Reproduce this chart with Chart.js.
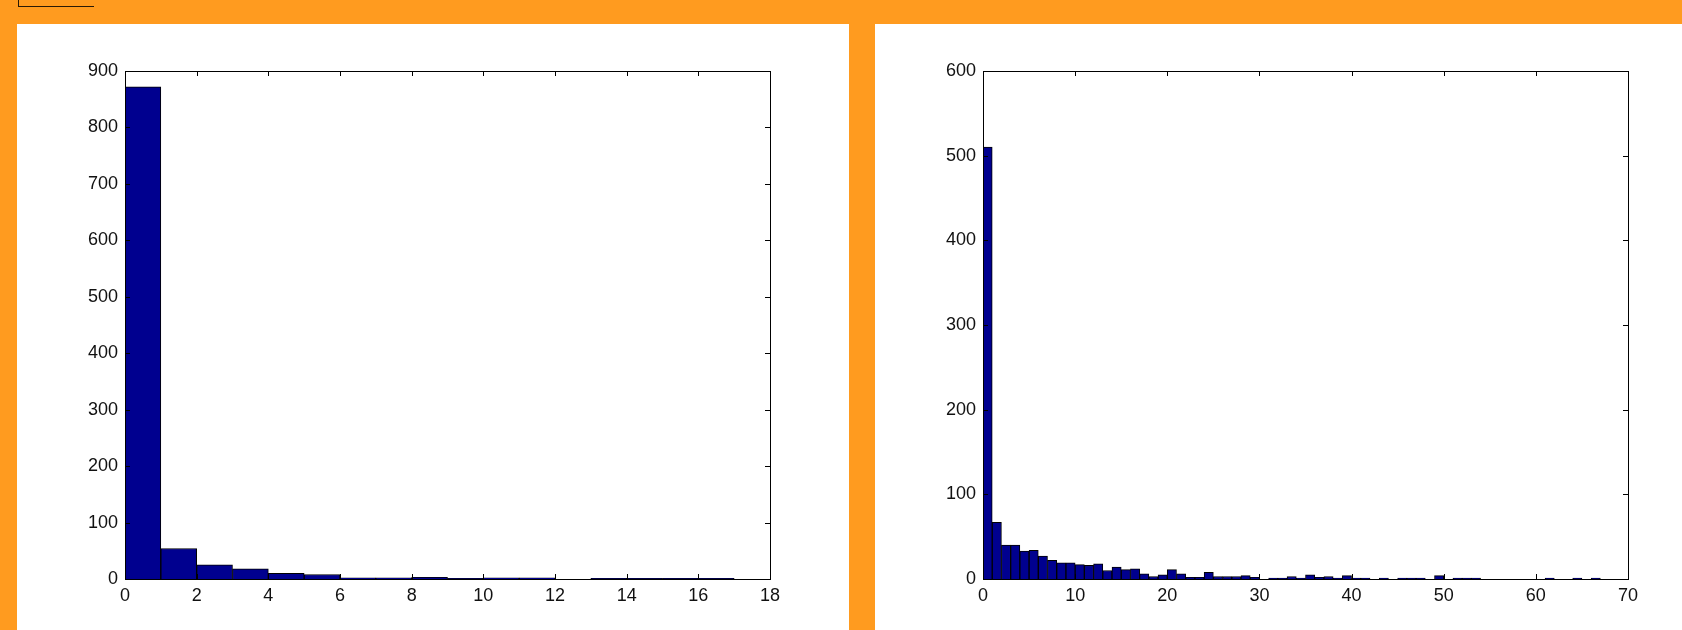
<!DOCTYPE html>
<html>
<head>
<meta charset="utf-8">
<script src="https://cdn.jsdelivr.net/npm/chart.js@4"></script>
<style>
    html, body { margin: 0; padding: 0; }
    body { width: 1682px; height: 630px; background: #FF9B1F; position: relative; overflow: hidden; }
    .panel { position: absolute; top: 24px; height: 606px; background: #fff; }
    #leftPanel { left: 17px; width: 832px; }
    #rightPanel { left: 875px; width: 807px; }
    .tab { position: absolute; left: 18px; top: 0; width: 75px; height: 6px; border-left: 1px solid #2a1a05; border-bottom: 1px solid #2a1a05; }
</style>
</head>
<body>
<div class="tab"></div>
<div class="panel" id="leftPanel"><canvas id="histLeft" width="832" height="606"></canvas></div>
<div class="panel" id="rightPanel"><canvas id="histRight" width="807" height="606"></canvas></div>
<script>
// counts per unit-width bin, starting at 0
const leftCounts = [872, 54, 25, 18, 10, 8, 2, 2, 3, 1, 2, 2, 0, 1, 1, 1, 1, 0];
const rightCounts = [
    510, 67, 40, 40, 33, 34, 27, 22, 19, 19,
    17, 16, 18, 10, 14, 11, 12, 6, 3, 5,
    11, 6, 2, 2, 8, 3, 3, 3, 4, 2,
    0, 1, 1, 3, 1, 5, 2, 3, 1, 4,
    1, 1, 0, 1, 0, 1, 1, 1, 0, 4,
    0, 1, 1, 1, 0, 0, 0, 0, 0, 0,
    0, 1, 0, 0, 1, 0, 1, 0, 0, 0
];
const leftXTicks = { min: 0, max: 18, step: 2 };
const leftYTicks = { min: 0, max: 900, step: 100 };
const rightXTicks = { min: 0, max: 70, step: 10 };
const rightYTicks = { min: 0, max: 600, step: 100 };

const FONT = { family: '"Liberation Sans", Arial, sans-serif', size: 18 };

// box around the plot area with short inward ticks on all four sides
const boxTicks = {
    id: 'boxTicks',
    afterDraw(chart) {
        const { ctx, chartArea: a, scales } = chart;
        const len = 5;
        ctx.save();
        ctx.strokeStyle = '#000';
        ctx.lineWidth = 1;
        ctx.beginPath();
        scales.x.ticks.forEach(t => {
            const x = Math.round(scales.x.getPixelForValue(t.value)) + 0.5;
            ctx.moveTo(x, a.bottom); ctx.lineTo(x, a.bottom - len);
            ctx.moveTo(x, a.top); ctx.lineTo(x, a.top + len);
        });
        scales.y.ticks.forEach(t => {
            const y = Math.round(scales.y.getPixelForValue(t.value)) + 0.5;
            ctx.moveTo(a.left, y); ctx.lineTo(a.left + len, y);
            ctx.moveTo(a.right, y); ctx.lineTo(a.right - len, y);
        });
        ctx.stroke();
        ctx.strokeRect(Math.round(a.left) + 0.5, Math.round(a.top) + 0.5,
            Math.round(a.right - a.left), Math.round(a.bottom - a.top));
        ctx.restore();
    }
};

function makeHist(id, counts, xt, yt, padRight) {
    const points = counts.map((c, i) => ({ x: i + 0.5, y: c }));
    return new Chart(document.getElementById(id), {
        type: 'bar',
        data: {
            datasets: [{
                data: points,
                backgroundColor: '#00008F',
                borderColor: '#000',
                borderWidth: 1,
                barPercentage: 1,
                categoryPercentage: 1
            }]
        },
        options: {
            responsive: false,
            animation: false,
            events: [],
            layout: { padding: { top: 47, right: padRight, left: 0, bottom: 0 } },
            plugins: { legend: { display: false }, tooltip: { enabled: false } },
            scales: {
                x: {
                    type: 'linear',
                    offset: false,
                    min: xt.min,
                    max: xt.max,
                    grid: { display: false, drawTicks: false },
                    border: { display: false },
                    ticks: { stepSize: xt.step, padding: 6, color: '#111', font: FONT, maxRotation: 0 },
                    afterFit: s => { s.height = 51; }
                },
                y: {
                    min: yt.min,
                    max: yt.max,
                    grid: { display: false, drawTicks: false },
                    border: { display: false },
                    ticks: { stepSize: yt.step, padding: 7, color: '#111', font: FONT },
                    afterFit: s => { s.width = 108; }
                }
            }
        },
        plugins: [boxTicks]
    });
}

makeHist('histLeft', leftCounts, leftXTicks, leftYTicks, 79);
makeHist('histRight', rightCounts, rightXTicks, rightYTicks, 54);
</script>
</body>
</html>
